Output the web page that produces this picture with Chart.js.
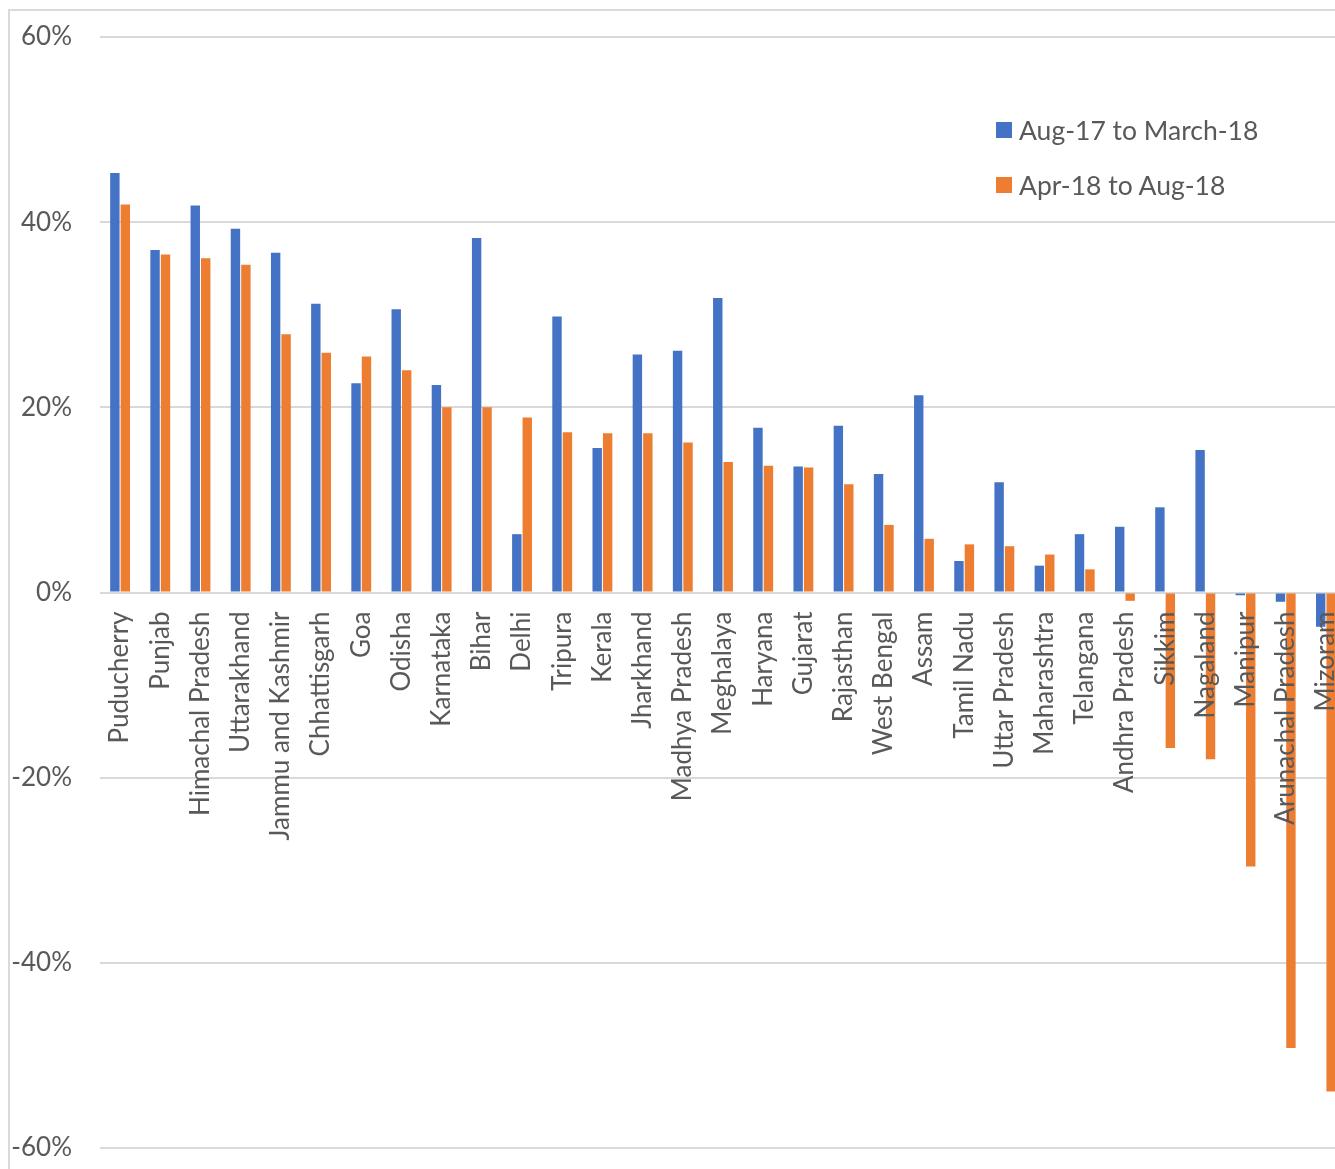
<!DOCTYPE html>
<html>
<head>
<meta charset="utf-8">
<script src="https://cdn.jsdelivr.net/npm/chart.js@4/dist/chart.umd.min.js"></script>
<style>
  html, body { margin: 0; padding: 0; width: 1335px; height: 1169px; overflow: hidden; background: #fff; }
  #frame { position: absolute; left: 8px; top: 9px; width: 2000px; height: 2000px; border-left: 2px solid #D9D9D9; border-top: 2px solid #D9D9D9; }
  #c { position: absolute; left: 0; top: 0; }
  #legend { position: absolute; left: 996px; top: 112px; font-family: Lato, "Open Sans", sans-serif; font-size: 26.5px; color: #595959; }
  .item { position: relative; height: 55px; }
  .sw { position: absolute; left: 0; top: 10px; width: 16px; height: 16px; }
  .tx { position: absolute; left: 23px; top: 0; line-height: 36px; white-space: nowrap; }
</style>
</head>
<body>
<div id="frame"></div>
<canvas id="c" width="1347" height="1169"></canvas>
<div id="legend"></div>
<script>
const categories = ["Puducherry","Punjab","Himachal Pradesh","Uttarakhand","Jammu and Kashmir","Chhattisgarh","Goa","Odisha","Karnataka","Bihar","Delhi","Tripura","Kerala","Jharkhand","Madhya Pradesh","Meghalaya","Haryana","Gujarat","Rajasthan","West Bengal","Assam","Tamil Nadu","Uttar Pradesh","Maharashtra","Telangana","Andhra Pradesh","Sikkim","Nagaland","Manipur","Arunachal Pradesh","Mizoram"];
const seriesNames = ["Aug-17 to March-18", "Apr-18 to Aug-18"];
const augToMarch = [45.3, 37.0, 41.8, 39.3, 36.7, 31.2, 22.6, 30.6, 22.4, 38.3, 6.3, 29.8, 15.6, 25.7, 26.1, 31.8, 17.8, 13.6, 18.0, 12.8, 21.3, 3.4, 11.9, 2.9, 6.3, 7.1, 9.2, 15.4, -0.3, -1.0, -3.7];
const aprToAug = [41.9, 36.5, 36.1, 35.4, 27.9, 25.9, 25.5, 24.0, 20.0, 20.0, 18.9, 17.3, 17.2, 17.2, 16.2, 14.1, 13.7, 13.5, 11.7, 7.3, 5.8, 5.2, 5.0, 4.1, 2.5, -0.9, -16.8, -18.0, -29.6, -49.2, -53.9];
const yTickValues = [-60, -40, -20, 0, 20, 40, 60];

const colors = ["#4472C4", "#ED7D31"];
const font = { family: "Lato, 'Open Sans', sans-serif", size: 26 };
const textColor = "#595959";

const chart = new Chart(document.getElementById('c'), {
  type: 'bar',
  data: {
    labels: categories,
    datasets: [
      { label: seriesNames[0], data: augToMarch, backgroundColor: colors[0], borderWidth: 0, categoryPercentage: 0.52, barPercentage: 0.9 },
      { label: seriesNames[1], data: aprToAug, backgroundColor: colors[1], borderWidth: 0, categoryPercentage: 0.52, barPercentage: 0.9 }
    ]
  },
  options: {
    responsive: false,
    animation: false,
    devicePixelRatio: 1,
    layout: { padding: { top: 37, bottom: 21, left: 0, right: 1 } },
    plugins: { legend: { display: false }, tooltip: { enabled: false } },
    scales: {
      x: {
        position: { y: 0 },
        grid: { display: false, drawTicks: false },
        border: { display: false },
        ticks: { z: 1, autoSkip: false, maxRotation: 90, minRotation: 90, padding: 19, color: textColor, font: font },
        afterFit: s => { s.paddingLeft = 0; s.paddingRight = 0; s.paddingTop = 0; s.paddingBottom = 0; }
      },
      y: {
        min: yTickValues[0],
        max: yTickValues[yTickValues.length - 1],
        afterBuildTicks: s => { s.ticks = yTickValues.map(v => ({ value: v })); },
        grid: { color: "#D9D9D9", lineWidth: 2, drawTicks: false },
        border: { display: false },
        ticks: { padding: 28, color: textColor, font: font, callback: v => v + '%' },
        afterFit: s => { s.width = 100; s.paddingLeft = 0; s.paddingRight = 0; s.paddingTop = 0; s.paddingBottom = 0; }
      }
    }
  }
});

const legend = document.getElementById('legend');
chart.data.datasets.forEach(ds => {
  const item = document.createElement('div');
  item.className = 'item';
  const sw = document.createElement('div');
  sw.className = 'sw';
  sw.style.background = ds.backgroundColor;
  const tx = document.createElement('div');
  tx.className = 'tx';
  tx.textContent = ds.label;
  item.appendChild(sw);
  item.appendChild(tx);
  legend.appendChild(item);
});
</script>
</body>
</html>
